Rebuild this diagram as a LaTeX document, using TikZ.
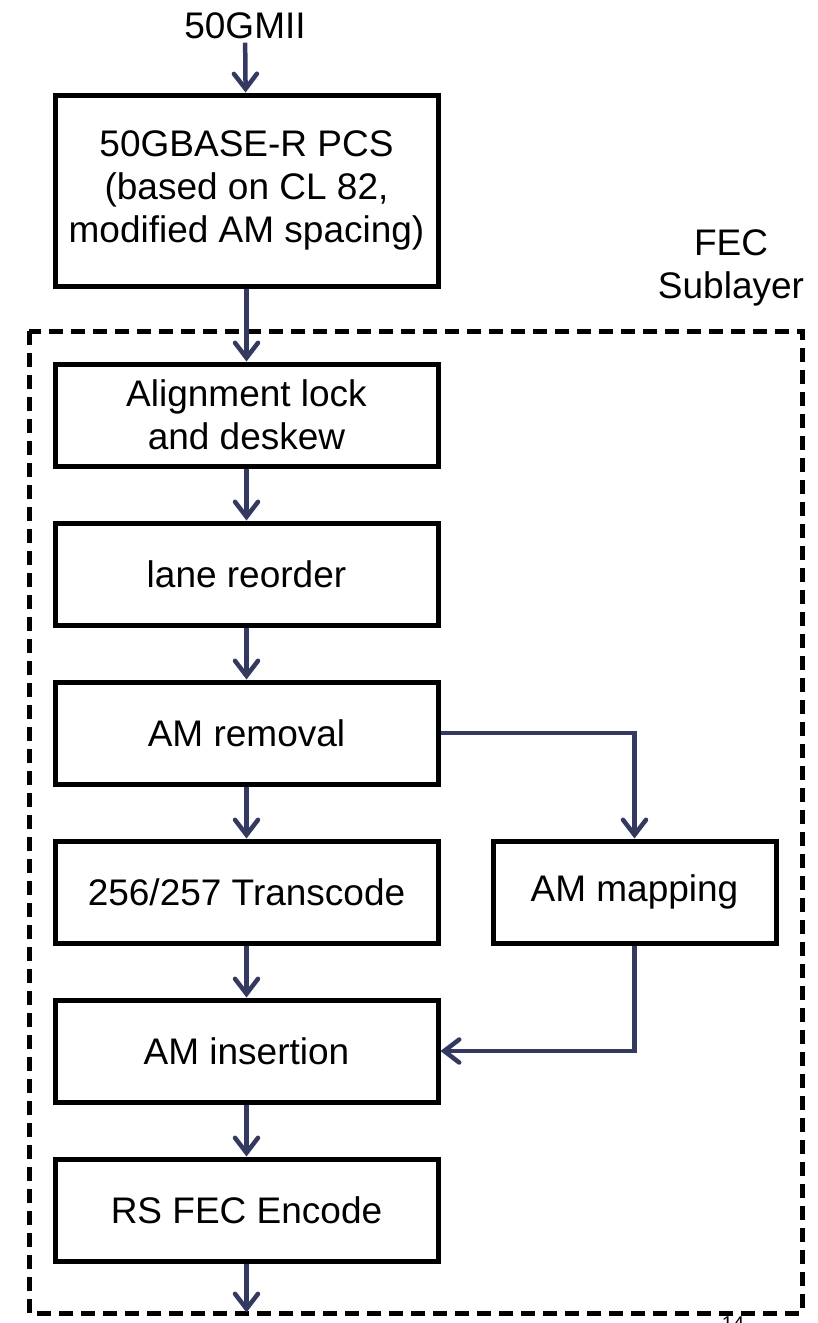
\documentclass[tikz,border=0pt]{standalone}
\usepackage{fontspec}
\setmainfont{Liberation Sans}
\usepackage{tikz}
\usetikzlibrary{arrows.meta}
\usetikzlibrary{positioning}
\usetikzlibrary{calc}

\definecolor{flowBlue}{RGB}{52,57,96}

\begin{document}
\begin{tikzpicture}[
    x=1pt, y=-1pt,
    node distance=52pt,
    layerBox/.style={
        rectangle, draw, line width=5pt,
        minimum width=383pt,
        minimum height=102pt,
        font=\fontsize{37pt}{43pt}\selectfont,
        align=center
    },
    flowArrow/.style={
        draw=flowBlue, line width=4.5pt,
        -{Straight Barb[length=15pt,width=23pt,line cap=round]}
    },
    sublayerFrame/.style={
        draw, line width=5pt, dash pattern=on 14pt off 8pt
    }
]
\useasboundingbox (0,0) rectangle (817,1323);
\node[font=\fontsize{37pt}{43pt}\selectfont] (gmii) at (245,26) {50GMII};
\node[layerBox, minimum height=191pt] (pcs) at (246.5,190.5)
    {50GBASE-R PCS\\(based on CL 82,\\modified AM spacing)};
\node[layerBox, below=73pt of pcs] (align) {Alignment lock\\ and deskew};
\node[layerBox, below=of align] (reorder) {lane reorder};
\node[layerBox, below=of reorder] (amremove) {AM removal};
\node[layerBox, below=of amremove] (transcode) {256/257 Transcode};
\node[layerBox, below=of transcode] (aminsert) {AM insertion};
\node[layerBox, below=of aminsert] (rsfec) {RS FEC Encode};
\node[layerBox, minimum width=283pt, right=50pt of transcode] (ammap) {AM mapping};
% sublayer frame and its label
\draw[sublayerFrame] (29,331) rectangle (802,1313);
\node[font=\fontsize{37pt}{43pt}\selectfont, align=center] (feclabel) at (731,268) {FEC\\Sublayer};
\node[font=\fontsize{20pt}{24pt}\selectfont, inner sep=0pt] (pagenum) at (733,1324) {14};
\coordinate (fecout) at ($(rsfec.south)+(0,49)$);
% data path
\draw[flowArrow] (gmii) -- (pcs);
\draw[flowArrow] (pcs) -- (align);
\draw[flowArrow] (align) -- (reorder);
\draw[flowArrow] (reorder) -- (amremove);
\draw[flowArrow] (amremove) -- (transcode);
\draw[flowArrow] (transcode) -- (aminsert);
\draw[flowArrow] (aminsert) -- (rsfec);
\draw[flowArrow] (rsfec) -- (fecout);
\draw[flowArrow] (amremove.east) -| (ammap.north);
\draw[flowArrow] (ammap.south) |- (aminsert.east);
\end{tikzpicture}
\end{document}
